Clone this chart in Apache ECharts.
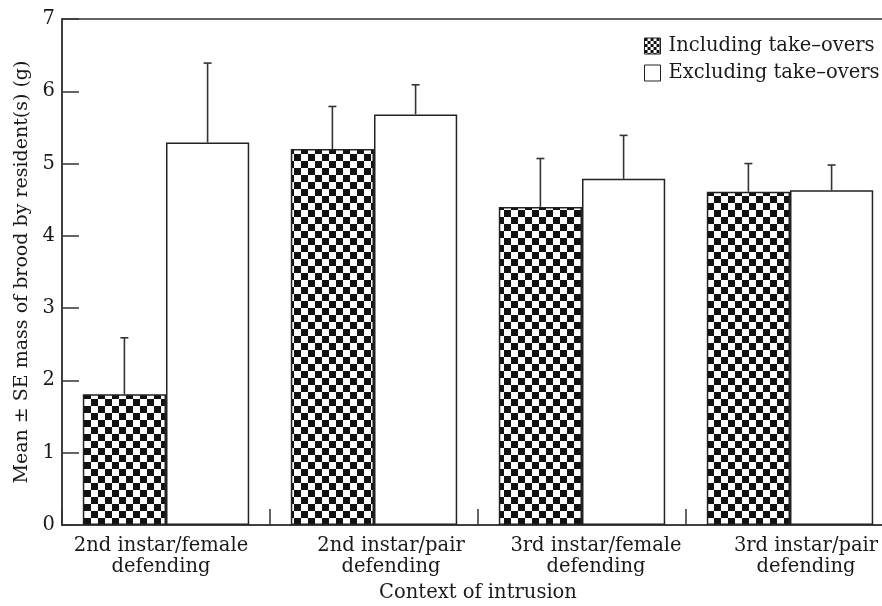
<!DOCTYPE html>
<html>
<head>
<meta charset="utf-8">
<script src="https://cdn.jsdelivr.net/npm/echarts@6/dist/echarts.min.js"></script>
<style>
  html, body { margin: 0; padding: 0; background: #fff; overflow: hidden; }
  #chart { width: 882px; height: 606px; }
</style>
</head>
<body>
<div id="chart"></div>
<script>
const categories = ['2nd instar/female\ndefending', '2nd instar/pair\ndefending', '3rd instar/female\ndefending', '3rd instar/pair\ndefending'];
const seriesNames = ['Including take–overs', 'Excluding take–overs'];
const includingMean = [1.81, 5.20, 4.40, 4.61];
const includingUpper = [2.59, 5.79, 5.07, 5.00];
const excludingMean = [5.29, 5.68, 4.79, 4.63];
const excludingUpper = [6.39, 6.09, 5.39, 4.98];
const yAxisName = 'Mean ± SE mass of brood by resident(s) (g)';
const xAxisName = 'Context of intrusion';

// horizontal nudge (px) of each category label, as in the reference layout
const labelShift = [-5, 17, 14, 16];

function checker(cell, gapPx) {
  const c = document.createElement('canvas');
  c.width = cell * 2; c.height = cell * 2;
  const ctx = c.getContext('2d');
  ctx.fillStyle = '#fff';
  ctx.fillRect(0, 0, c.width, c.height);
  ctx.fillStyle = '#111';
  ctx.fillRect(0, 0, cell - gapPx, cell - gapPx);
  ctx.fillRect(cell, cell, cell - gapPx, cell - gapPx);
  return c;
}
const bigPattern = { image: checker(7, 0), repeat: 'repeat' };
const smallPattern = { image: checker(3, 0), repeat: 'repeat' };

const FONT = 'DejaVu Serif';
const FS = 19.5;
const TXT = '#1a1a1a';
const LINE = '#333';

const chart = echarts.init(document.getElementById('chart'), null, { renderer: 'canvas' });

function errData(means, uppers) {
  return means.map((m, i) => [i, m, uppers[i]]);
}
function makeErr(side) {
  return function (params, api) {
    const i = api.value(0);
    const band = api.size([1, 0])[0];
    const bw = band * 0.4;
    const off = side * bw / 2;
    const p0 = api.coord([i, api.value(1)]);
    const p1 = api.coord([i, api.value(2)]);
    const x = p0[0] + off;
    const style = { stroke: LINE, lineWidth: 1.6 };
    return {
      type: 'group',
      children: [
        { type: 'line', shape: { x1: x, y1: p0[1], x2: x, y2: p1[1] }, style: style },
        { type: 'line', shape: { x1: x - 4, y1: p1[1], x2: x + 4, y2: p1[1] }, style: style }
      ]
    };
  };
}

const xData = categories.map((c, i) => {
  const s = labelShift[i];
  return {
    value: c,
    textStyle: { padding: s >= 0 ? [0, 0, 0, 2 * s] : [0, -2 * s, 0, 0] }
  };
});

chart.setOption({
  animation: false,
  backgroundColor: '#fff',
  textStyle: { fontFamily: FONT, color: TXT },
  grid: {
    left: 62, top: 19, width: 832, height: 506,
    containLabel: false, outerBoundsMode: 'none',
    show: true, borderColor: LINE, borderWidth: 1.5, backgroundColor: 'transparent'
  },
  legend: {
    orient: 'vertical',
    left: 644, top: 36, padding: 0,
    itemWidth: 16, itemHeight: 16, itemGap: 7,
    icon: 'rect',
    textStyle: { fontFamily: FONT, fontSize: FS, color: TXT, padding: [0, 0, 0, 3] },
    data: [
      { name: seriesNames[0], itemStyle: { color: smallPattern, borderColor: '#222', borderWidth: 1 } },
      { name: seriesNames[1], itemStyle: { color: '#fff', borderColor: '#222', borderWidth: 1 } }
    ]
  },
  xAxis: {
    type: 'category',
    data: xData,
    name: xAxisName,
    nameLocation: 'middle',
    nameGap: 58,
    nameTextStyle: { fontFamily: FONT, fontSize: FS, color: TXT },
    axisLine: { lineStyle: { color: LINE, width: 1.5 } },
    axisTick: { show: true, inside: true, length: 16, lineStyle: { color: LINE, width: 1.5 } },
    axisLabel: { fontFamily: FONT, fontSize: FS, color: TXT, margin: 10, lineHeight: 21, interval: 0 },
    splitLine: { show: false }
  },
  yAxis: {
    type: 'value',
    min: 0, max: 7, interval: 1,
    name: yAxisName,
    nameLocation: 'middle',
    nameGap: 28,
    nameTextStyle: { fontFamily: FONT, fontSize: 19, color: TXT },
    axisLine: { show: true, lineStyle: { color: LINE, width: 1.5 } },
    axisTick: { show: true, inside: true, length: 17, lineStyle: { color: LINE, width: 1.5 } },
    axisLabel: { fontFamily: FONT, fontSize: FS, color: TXT, margin: 7 },
    splitLine: { show: false }
  },
  series: [
    {
      name: seriesNames[0], type: 'bar', data: includingMean,
      barGap: '0%', barCategoryGap: '20%',
      itemStyle: { color: bigPattern, borderColor: '#222', borderWidth: 1.5 }
    },
    {
      name: seriesNames[1], type: 'bar', data: excludingMean,
      barGap: '0%', barCategoryGap: '20%',
      itemStyle: { color: '#fff', borderColor: '#222', borderWidth: 1.5 }
    },
    {
      type: 'custom', name: 'errInc', data: errData(includingMean, includingUpper),
      renderItem: makeErr(-1), z: 5, silent: true, encode: { x: 0, y: [1, 2] }
    },
    {
      type: 'custom', name: 'errExc', data: errData(excludingMean, excludingUpper),
      renderItem: makeErr(1), z: 5, silent: true, encode: { x: 0, y: [1, 2] }
    }
  ]
});
</script>
</body>
</html>
